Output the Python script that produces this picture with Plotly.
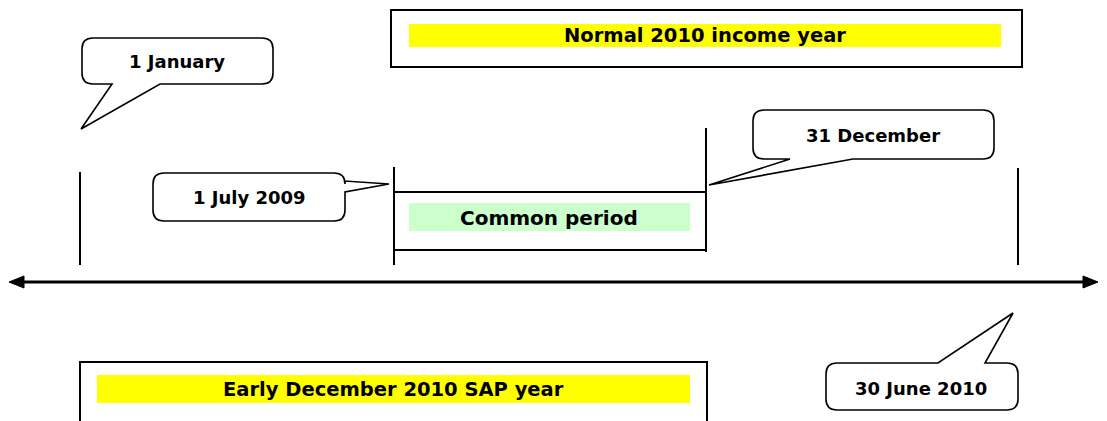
import plotly.graph_objects as go

# ---------------- content ----------------
period_labels = ["Normal 2010 income year", "Common period", "Early December 2010 SAP year"]
date_labels = ["1 January", "1 July 2009", "31 December", "30 June 2010"]

W, H = 1107, 421
OFF = 8  # default page body margin compensation
FONT = "DejaVu Sans"
BLACK = "#000000"
YELLOW = "#FFFF00"
GREEN = "#CCFFCC"

shapes = []
annotations = []


def rect(x0, y0, x1, y1, fill="rgba(0,0,0,0)", lw=0, lc=BLACK):
    shapes.append(dict(type="rect", xref="x", yref="y", x0=x0, y0=y0, x1=x1, y1=y1,
                       fillcolor=fill, line=dict(color=lc, width=lw), layer="above"))


def line(x0, y0, x1, y1, lw=2):
    shapes.append(dict(type="line", xref="x", yref="y", x0=x0, y0=y0, x1=x1, y1=y1,
                       line=dict(color=BLACK, width=lw), layer="above"))


def text(x, y, s, size):
    annotations.append(dict(x=x, y=y, xref="x", yref="y", text="<b>%s</b>" % s,
                            showarrow=False, xanchor="center", yanchor="middle",
                            font=dict(family=FONT, size=size, color=BLACK)))


def callout(x0, y0, x1, y1, side, b1, b2, tip, r=11):
    tx, ty = tip
    p = "M %g,%g " % (x0 + r, y0)
    if side == "top":
        p += "L %g,%g L %g,%g L %g,%g " % (b1, y0, tx, ty, b2, y0)
    p += "L %g,%g Q %g,%g %g,%g " % (x1 - r, y0, x1, y0, x1, y0 + r)
    if side == "right":
        p += "L %g,%g L %g,%g L %g,%g " % (x1, b1, tx, ty, x1, b2)
    p += "L %g,%g Q %g,%g %g,%g " % (x1, y1 - r, x1, y1, x1 - r, y1)
    if side == "bottom":
        p += "L %g,%g L %g,%g L %g,%g " % (b2, y1, tx, ty, b1, y1)
    p += "L %g,%g Q %g,%g %g,%g " % (x0 + r, y1, x0, y1, x0, y1 - r)
    p += "L %g,%g Q %g,%g %g,%g Z" % (x0, y0 + r, x0, y0, x0 + r, y0)
    shapes.append(dict(type="path", xref="x", yref="y", path=p, fillcolor="white",
                       line=dict(color=BLACK, width=1.6), layer="above"))


# ---- period boxes ----
rect(391, 10, 1022, 67, lw=2)
rect(409, 24, 1001, 47, fill=YELLOW)
text(705, 35.5, period_labels[0], 19.5)

rect(80, 362, 707, 440, lw=2)
rect(97, 375, 690, 403, fill=YELLOW)
text(393, 389.5, period_labels[2], 19.5)

# common period
line(394, 192, 706, 192)
line(394, 250, 706, 250)
rect(409, 203, 690, 231, fill=GREEN)
text(549, 217.5, period_labels[1], 20)

# ---- date markers ----
line(80, 172, 80, 265)
line(394, 167, 394, 265)
line(706, 128, 706, 252)
line(1018, 168, 1018, 265)

# ---- main timeline arrow ----
line(22, 282, 1085, 282, lw=3)
shapes.append(dict(type="path", xref="x", yref="y", path="M 9,282 L 24,276 L 24,288 Z",
                   fillcolor=BLACK, line=dict(color=BLACK, width=1), layer="above"))
shapes.append(dict(type="path", xref="x", yref="y", path="M 1098,282 L 1083,276 L 1083,288 Z",
                   fillcolor=BLACK, line=dict(color=BLACK, width=1), layer="above"))

# ---- callouts ----
callout(82, 38, 273, 84, "bottom", 112, 160, (81, 129))
text(177, 61, date_labels[0], 18)

callout(153, 173, 345, 221, "right", 181, 192, (389, 184))
text(249, 197, date_labels[1], 18)

callout(753, 110, 994, 159, "bottom", 790, 853, (709, 185))
text(873, 135, date_labels[2], 18)

callout(826, 363, 1018, 410, "top", 938, 985, (1013, 313))
text(921, 388, date_labels[3], 18)

fig = go.Figure()
fig.add_trace(go.Scatter(x=[OFF, W], y=[OFF, H], mode="markers", marker=dict(opacity=0),
                         hoverinfo="skip", showlegend=False))
fig.update_layout(
    width=W, height=H, margin=dict(l=0, r=0, t=0, b=0),
    paper_bgcolor="white", plot_bgcolor="white",
    xaxis=dict(range=[OFF, W + OFF], visible=False, fixedrange=True),
    yaxis=dict(range=[H + OFF, OFF], visible=False, fixedrange=True),
    shapes=shapes, annotations=annotations, showlegend=False,
)
fig.write_html("out.html", config={"displayModeBar": False})
